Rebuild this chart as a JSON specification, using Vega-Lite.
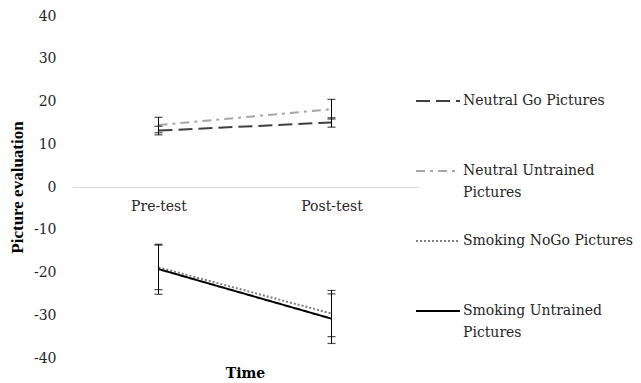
{
  "$schema": "https://vega.github.io/schema/vega-lite/v6.json",
  "width": 346,
  "height": 342,
  "autosize": {"type": "none"},
  "padding": {"left": 72, "top": 16, "right": 223, "bottom": 25},
  "background": "white",
  "config": {"view": {"stroke": null}},
  "data": {
    "values": [
      {"series": "Neutral Go Pictures", "time": "Pre-test", "value": 13.2, "lo": 12.2, "hi": 14.2},
      {"series": "Neutral Go Pictures", "time": "Post-test", "value": 15.1, "lo": 14.0, "hi": 16.2},
      {"series": "Neutral Untrained Pictures", "time": "Pre-test", "value": 14.5, "lo": 12.7, "hi": 16.3},
      {"series": "Neutral Untrained Pictures", "time": "Post-test", "value": 18.2, "lo": 15.9, "hi": 20.5},
      {"series": "Smoking NoGo Pictures", "time": "Pre-test", "value": -18.8, "lo": -24.0, "hi": -13.6},
      {"series": "Smoking NoGo Pictures", "time": "Post-test", "value": -29.6, "lo": -35.0, "hi": -24.2},
      {"series": "Smoking Untrained Pictures", "time": "Pre-test", "value": -19.2, "lo": -25.1, "hi": -13.4},
      {"series": "Smoking Untrained Pictures", "time": "Post-test", "value": -30.8, "lo": -36.6, "hi": -25.0}
    ]
  },
  "encoding": {
    "x": {
      "field": "time",
      "type": "nominal",
      "sort": ["Pre-test", "Post-test"],
      "scale": {"type": "point", "padding": 0.5},
      "axis": {
        "orient": "bottom",
        "offset": -171,
        "domain": true,
        "domainColor": "#d9d9d9",
        "domainWidth": 1,
        "ticks": false,
        "grid": false,
        "labelAngle": 0,
        "labelPadding": 12,
        "labelFont": "DejaVu Serif",
        "labelFontSize": 14,
        "labelColor": "#262626",
        "title": "Time",
        "titleFont": "DejaVu Serif",
        "titleFontSize": 14,
        "titleFontWeight": "bold",
        "titleColor": "#000000",
        "titleBaseline": "middle",
        "titleY": 186
      }
    }
  },
  "layer": [
    {
      "mark": {"type": "line"},
      "encoding": {
        "y": {
          "field": "value",
          "type": "quantitative",
          "scale": {"domain": [-40, 40], "nice": false, "zero": false},
          "axis": {
            "values": [-40, -30, -20, -10, 0, 10, 20, 30, 40],
            "labelExpr": "'' + datum.value",
            "domain": false,
            "ticks": false,
            "grid": false,
            "labelPadding": 16,
            "labelFont": "DejaVu Serif",
            "labelFontSize": 14,
            "labelColor": "#262626",
            "title": "Picture evaluation",
            "titleFont": "Liberation Serif",
            "titleFontSize": 17,
            "titleFontWeight": "bold",
            "titleColor": "#000000",
            "titlePadding": 7
          }
        },
        "color": {
          "field": "series",
          "type": "nominal",
          "scale": {
            "domain": ["Neutral Go Pictures", "Neutral Untrained Pictures", "Smoking NoGo Pictures", "Smoking Untrained Pictures"],
            "range": ["#404040", "#a6a6a6", "#7f7f7f", "#000000"]
          },
          "legend": {
            "title": null,
            "orient": "none",
            "legendX": 343,
            "legendY": 62,
            "symbolType": "stroke",
            "symbolSize": 1936,
            "symbolStrokeWidth": 2,
            "rowPadding": 18,
            "labelOffset": 2,
            "labelFont": "DejaVu Serif",
            "labelFontSize": 14,
            "labelColor": "#262626",
            "labelLimit": 300,
            "labelExpr": "datum.label == 'Neutral Untrained Pictures' ? ['Neutral Untrained', 'Pictures'] : datum.label == 'Smoking Untrained Pictures' ? ['Smoking Untrained', 'Pictures'] : [datum.label, '']",
            "encode": {
              "labels": {"update": {"lineHeight": {"value": 22}}}
            }
          }
        },
        "strokeDash": {
          "field": "series",
          "type": "nominal",
          "scale": {
            "domain": ["Neutral Go Pictures", "Neutral Untrained Pictures", "Smoking NoGo Pictures", "Smoking Untrained Pictures"],
            "range": [[14, 6], [9, 5, 3, 5], [2, 2], [1, 0]]
          },
          "legend": null
        },
        "strokeWidth": {
          "field": "series",
          "type": "nominal",
          "scale": {
            "domain": ["Neutral Go Pictures", "Neutral Untrained Pictures", "Smoking NoGo Pictures", "Smoking Untrained Pictures"],
            "range": [2, 2, 1.5, 2.5]
          },
          "legend": null
        }
      }
    },
    {
      "mark": {"type": "rule", "color": "#000000", "strokeWidth": 1},
      "encoding": {
        "y": {"field": "lo", "type": "quantitative"},
        "y2": {"field": "hi"}
      }
    },
    {
      "mark": {"type": "tick", "color": "#000000", "thickness": 1.2, "size": 8},
      "encoding": {
        "y": {"field": "lo", "type": "quantitative"}
      }
    },
    {
      "mark": {"type": "tick", "color": "#000000", "thickness": 1.2, "size": 8},
      "encoding": {
        "y": {"field": "hi", "type": "quantitative"}
      }
    }
  ]
}
